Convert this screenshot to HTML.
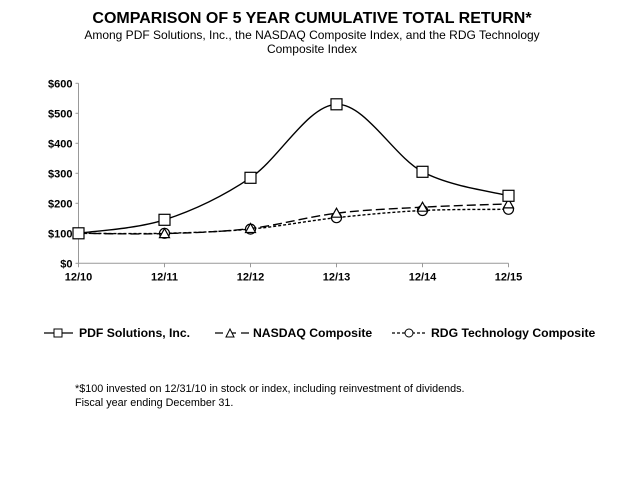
<!DOCTYPE html>
<html><head><meta charset="utf-8"><style>
body{margin:0;background:#fff;width:625px;height:488px;overflow:hidden;font-family:"Liberation Sans",Arial,sans-serif}
</style></head><body>
<svg width="625" height="488" xmlns="http://www.w3.org/2000/svg">
<text x="312" y="23" text-anchor="middle" font-weight="bold" font-size="16">COMPARISON OF 5 YEAR CUMULATIVE TOTAL RETURN*</text>
<text x="312" y="39" text-anchor="middle" font-size="12">Among PDF Solutions, Inc., the NASDAQ Composite Index, and the RDG Technology</text>
<text x="312" y="53" text-anchor="middle" font-size="12">Composite Index</text>
<g id="axes"></g>
<g id="series"></g>
<g font-weight="bold" font-size="12.2">
<g>
<line x1="44" y1="333" x2="73" y2="333" stroke="#000" stroke-width="1.3"/><rect x="54" y="329" width="8" height="8" fill="#fff" stroke="#000"/>
<text x="79" y="337">PDF Solutions, Inc.</text></g>
<g>
<line x1="215" y1="333" x2="250" y2="333" stroke="#000" stroke-width="1.3" stroke-dasharray="8,5"/><path d="M226,337 L230,329 L234,337 Z" fill="#fff" stroke="#000"/>
<text x="253" y="337">NASDAQ Composite</text></g>
<g>
<line x1="392" y1="333" x2="427" y2="333" stroke="#000" stroke-width="1.3" stroke-dasharray="3,2"/><circle cx="409" cy="333" r="4" fill="#fff" stroke="#000"/>
<text x="431" y="337">RDG Technology Composite</text></g>
</g>
<text x="75" y="392" font-size="10.8">*$100 invested on 12/31/10 in stock or index, including reinvestment of dividends.</text>
<text x="75" y="406" font-size="10.8">Fiscal year ending December 31.</text>
</svg>
<script>
const categories=["12/10","12/11","12/12","12/13","12/14","12/15"];
const pdfValues=[100,145,285,530,305,225];
const nasdaqValues=[100,99,116,167,187,198];
const rdgValues=[100,100,114,152,176,180];
const yTicks=[0,100,200,300,400,500,600];
const NS="http://www.w3.org/2000/svg";
const x0=78.5,dx=86,y0=263.3,ppu=0.3;
const X=i=>x0+i*dx, Y=v=>y0-v*ppu;
function mk(t,a,p){const e=document.createElementNS(NS,t);for(const k in a)e.setAttribute(k,a[k]);p.appendChild(e);return e;}
const ax=document.getElementById('axes'), se=document.getElementById('series');
mk('line',{x1:x0,y1:Y(600),x2:x0,y2:y0,stroke:'#999'},ax);
mk('line',{x1:x0,y1:y0,x2:X(5),y2:y0,stroke:'#999'},ax);
yTicks.forEach(v=>{
 const t=mk('text',{x:x0-6,y:Y(v)+4,'text-anchor':'end','font-size':'11','font-weight':'bold'},ax);
 
 
 t.textContent='$'+v;
 mk('line',{x1:x0-3,y1:Y(v),x2:x0,y2:Y(v),stroke:'#999'},ax);
});
categories.forEach((c,i)=>{
 mk('line',{x1:X(i),y1:y0,x2:X(i),y2:y0+4,stroke:'#999'},ax);
 const t=mk('text',{x:X(i),y:y0+17,'text-anchor':'middle','font-size':'11','font-weight':'bold'},ax);
 
 
 t.textContent=c;
});
function smooth(vals){
 const p=vals.map((v,i)=>[X(i),Y(v)]);let d=`M${p[0][0]},${p[0][1]}`;
 for(let i=0;i<p.length-1;i++){const a=p[i-1]||p[i],b=p[i],c=p[i+1],e=p[i+2]||c;
  d+=` C${b[0]+(c[0]-a[0])/6},${b[1]+(c[1]-a[1])/6} ${c[0]-(e[0]-b[0])/6},${c[1]-(e[1]-b[1])/6} ${c[0]},${c[1]}`;}
 return d;}
function series(vals,dash,marker,name){
 const g=mk('g',{},se);
 
 
 mk('path',{d:smooth(vals),fill:'none',stroke:'#000','stroke-width':1.4,'stroke-dasharray':dash},g);
 vals.forEach((v,i)=>{const x=X(i),y=Y(v);let m;
  if(marker==='sq')m=mk('rect',{x:x-5.5,y:y-5.5,width:11,height:11,fill:'#fff',stroke:'#000','stroke-width':1.2},g);
  else if(marker==='tri')m=mk('path',{d:`M${x-5},${y+4} L${x},${y-5} L${x+5},${y+4} Z`,fill:'#fff',stroke:'#000','stroke-width':1.2},g);
  else m=mk('circle',{cx:x,cy:y,r:5,fill:'#fff',stroke:'#000','stroke-width':1.2},g);
  
  });
}
series(rdgValues,'3,2','circ','rdg-series');
series(nasdaqValues,'9,4','tri','nasdaq-series');
series(pdfValues,'','sq','pdf-series');
</script>
</body></html>
